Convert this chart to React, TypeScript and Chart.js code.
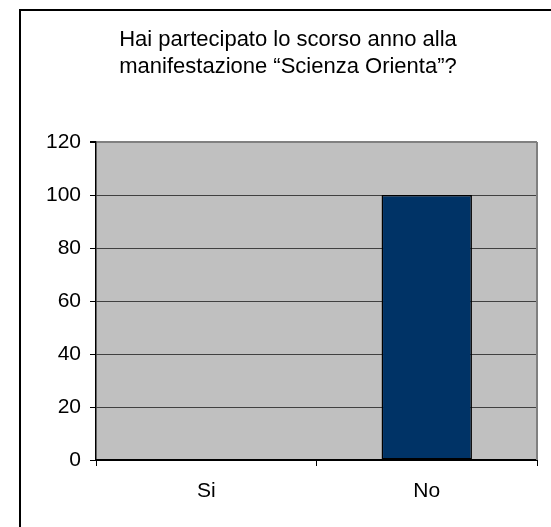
import React, { useEffect, useRef } from 'react';
import { Chart, registerables } from 'chart.js';

Chart.register(...registerables);

const categories = ['Si', 'No'];
const values = [0, 100];
const titleLines = ['Hai partecipato lo scorso anno alla', 'manifestazione \u201cScienza Orienta\u201d?'];
const yMin = 0;
const yMax = 120;
const yStep = 20;

const FONT = "'Liberation Sans', Arial, sans-serif";

const plotBg = {
  id: 'plotBg',
  beforeDraw(chart: any) {
    const { ctx, chartArea: a } = chart;
    ctx.save();
    ctx.fillStyle = '#c0c0c0';
    ctx.fillRect(a.left, a.top, a.right - a.left, a.bottom - a.top);
    ctx.restore();
  },
  beforeDatasetsDraw(chart: any) {
    const { ctx, chartArea: a } = chart;
    ctx.save();
    ctx.strokeStyle = '#808080';
    ctx.lineWidth = 2;
    ctx.beginPath();
    ctx.moveTo(a.right, a.top);
    ctx.lineTo(a.right, a.bottom);
    ctx.stroke();
    ctx.restore();
  },
};

export default function App() {
  const ref = useRef<HTMLCanvasElement>(null);
  useEffect(() => {
    if (!ref.current) return;
    const chart = new Chart(ref.current, {
      type: 'bar',
      data: {
        labels: categories,
        datasets: [
          {
            data: values,
            backgroundColor: '#003366',
            borderColor: '#000000',
            borderWidth: 1.5,
            borderSkipped: false,
            categoryPercentage: 1,
            barPercentage: 0.41,
          },
        ],
      },
      options: {
        animation: false,
        responsive: false,
        devicePixelRatio: 1,
        layout: { padding: { left: 18, right: 18, top: 0, bottom: 0 } },
        plugins: {
          legend: { display: false },
          tooltip: { enabled: false },
          title: {
            display: true,
            text: titleLines,
            color: '#000',
            font: { family: FONT, size: 22, weight: 'normal', lineHeight: '27px' },
            padding: { top: 15, bottom: 62 },
          },
        },
        scales: {
          x: {
            offset: true,
            afterFit: (s: any) => {
              s.height = 67;
            },
            grid: {
              offset: true,
              drawOnChartArea: false,
              drawTicks: true,
              tickLength: 6,
              color: '#000',
            },
            border: { display: true, color: '#000', width: 2 },
            ticks: {
              color: '#000',
              padding: 13,
              font: { family: FONT, size: 21 },
            },
          },
          y: {
            min: yMin,
            max: yMax,
            afterFit: (s: any) => {
              s.width = 57;
            },
            grid: {
              color: (c: any) => (c.tick && c.tick.value === yMax ? '#808080' : '#404040'),
              lineWidth: (c: any) => (c.tick && c.tick.value === yMax ? 2 : 1),
              tickColor: '#000',
              tickLength: 6,
              drawTicks: true,
            },
            border: { display: true, color: '#000', width: 1.5 },
            ticks: {
              stepSize: yStep,
              color: '#000',
              padding: 9,
              font: { family: FONT, size: 21 },
            },
          },
        },
      },
      plugins: [plotBg],
    } as any);
    return () => chart.destroy();
  }, []);

  return (
    <div
      style={{
        position: 'absolute',
        left: 0,
        top: 0,
        width: 551,
        height: 527,
        overflow: 'hidden',
        background: '#fff',
      }}
    >
      <div
        style={{
          position: 'absolute',
          left: 19,
          top: 9,
          width: 538,
          height: 540,
          border: '2px solid #000',
          boxSizing: 'border-box',
        }}
      >
        <canvas ref={ref} width={534} height={516} style={{ display: 'block' }} />
      </div>
    </div>
  );
}
